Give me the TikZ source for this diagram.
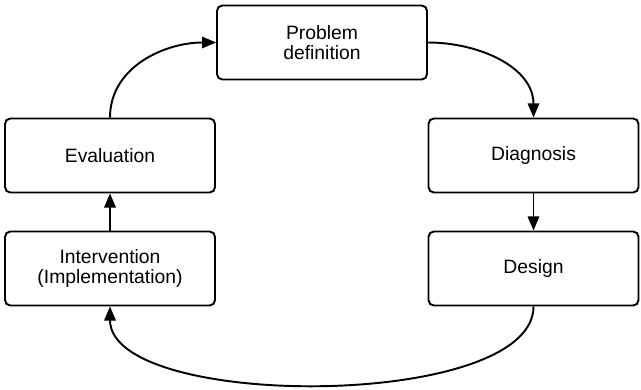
\documentclass[tikz,border=0pt]{standalone}
\usepackage{fontspec}
\setmainfont{Liberation Sans}
\usetikzlibrary{arrows.meta}
\begin{document}
\begin{tikzpicture}[x=0.02cm, y=-0.02cm,
   box/.style={draw, line width=1.1pt, rounded corners=3pt, align=center,
               minimum width=4.2cm, minimum height=1.48cm, inner sep=0pt,
               font=\fontsize{11}{11.5}\selectfont},
   flow/.style={line width=1.1pt, -{Triangle[length=8pt,width=6.5pt]}}]
 \useasboundingbox (0,0) rectangle (641,389);
 \node[box] (prob)   at (322,42.5)    {Problem\\definition};
 \node[box] (eval)   at (110,155.5)   {Evaluation};
 \node[box] (diag)   at (533.5,155.5) {Diagnosis};
 \node[box] (interv) at (110,268.5)   {Intervention\\(Implementation)};
 \node[box] (design) at (533.5,268.5) {Design};
   \draw[flow] (eval.north) to[out=90,in=180] (prob.west);
   \draw[flow] (prob.east) to[out=0,in=90] (diag.north);
   \draw[flow] (diag) -- (design);
   \draw[flow] (design.south) to[out=-90,in=-90,looseness=0.63] (interv.south);
   \draw[flow] (interv) -- (eval);
\end{tikzpicture}
\end{document}
